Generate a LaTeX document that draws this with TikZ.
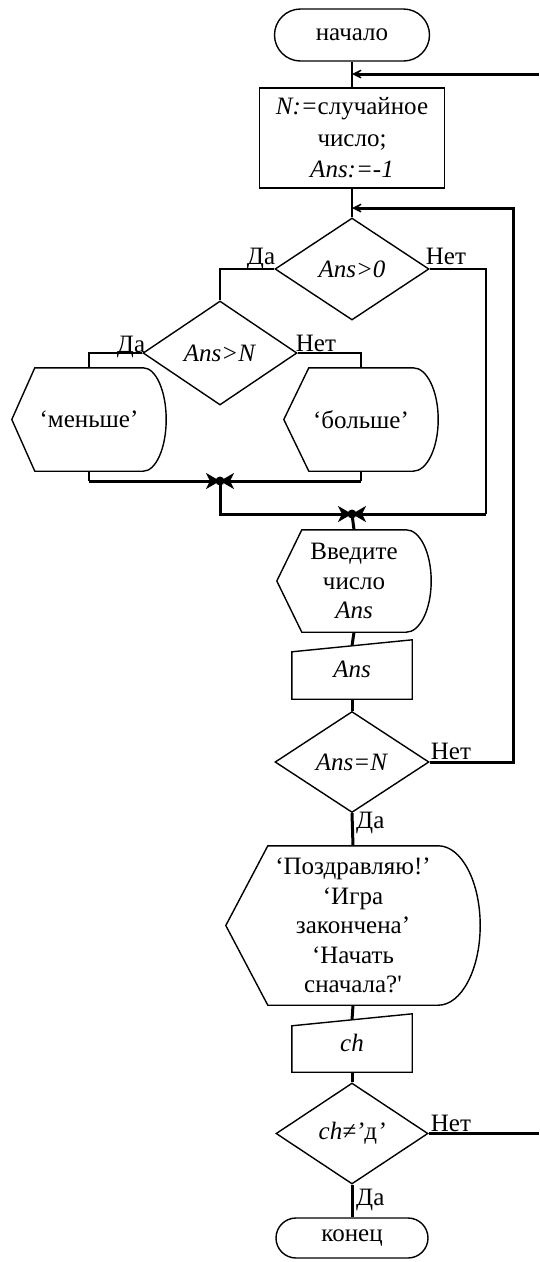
\documentclass[tikz,border=0pt]{standalone}
\usepackage{fontspec}
\setmainfont{Liberation Serif}
\usetikzlibrary{shapes.geometric,arrows.meta,calc}
\newcommand{\dispshape}[2]{%
  \draw[box] (#1.west) -- ($(#1.north west)+(#2,0)$) -- ($(#1.north east)+(-#2,0)$)
    .. controls ($(#1.north east)+(-0.448*#2,0)$) and ($(#1.east)!0.552!(#1.north east)$) .. (#1.east)
    .. controls ($(#1.east)!0.552!(#1.south east)$) and ($(#1.south east)+(-0.448*#2,0)$) .. ($(#1.south east)+(-#2,0)$)
    -- ($(#1.south west)+(#2,0)$) -- cycle;}
\newcommand{\inshape}[2]{%
  \draw[box] ($(#1.north west)+(0,#2)$) -- (#1.north east) -- (#1.south east) -- (#1.south west) -- cycle;}
\begin{document}
\begin{tikzpicture}[x=1pt,y=-1pt,
  every node/.style={font=\fontsize{25}{29.5}\selectfont},
  box/.style={draw,line width=1.4pt},
  term/.style={box,rounded corners=#1,inner sep=0pt},
  proc/.style={box,inner sep=0pt,align=center},
  dec/.style={box,shape=diamond,inner sep=0pt,minimum width=154pt,minimum height=102pt},
  holder/.style={inner sep=0pt,align=center},
  thinline/.style={line width=1.4pt},
  flow/.style={line width=3pt},
  flowarrow/.style={flow,-{Stealth[length=15pt,width=15pt,inset=10pt]}},
  juncarrow/.style={flow,-{Stealth[length=14pt,width=16pt,inset=4pt]}},
  lbl/.style={inner sep=0pt}
]
\useasboundingbox (0,0) rectangle (539,1262);

% nodes
\node[term=26pt,minimum width=155pt,minimum height=52pt] (start) at (352,35) {начало};
\node[proc,minimum width=185pt,minimum height=100pt] (init) at (352,138)
  {\textit{N:=}случайное\\[2pt]число;\\[2pt]\textit{Ans:=-1}};
\node[dec] (c1) at (352,269) {\textit{Ans>0}};
\node[dec,minimum height=104pt] (c2) at (220,353) {\textit{Ans>N}};
\node[holder,minimum width=154pt,minimum height=103pt] (less) at (89,419.5) {‘меньше’};
\node[holder,minimum width=154pt,minimum height=103pt] (more) at (361,419.5) {‘больше’};
\node[holder,minimum width=154pt,minimum height=102pt] (ask) at (354,581) {Введите\\число\\\textit{Ans}};
\node[holder,minimum width=120pt,minimum height=59pt] (inAns) at (352,669.5) {\raisebox{-3pt}{\textit{Ans}}};
\node[dec,minimum height=101pt] (c3) at (352,762) {\textit{Ans=N}};
\node[holder,minimum width=254pt,minimum height=159pt] (msg) at (353,925.5)
  {‘Поздравляю!’\\‘Игра\\закончена’\\‘Начать\\сначала?\textquotesingle};
\node[holder,minimum width=120pt,minimum height=58pt] (inCh) at (352,1043) {\raisebox{-3pt}{\textit{ch}}};
\node[dec,minimum width=152pt,minimum height=101pt] (c4) at (352,1133.5) {\textit{ch≠’}д\textit{’}};
\node[term=20pt,minimum width=152pt,minimum height=40pt] (stop) at (352,1238) {конец};

% shapes
\dispshape{less}{23}
\dispshape{more}{25}
\dispshape{ask}{25}
\dispshape{msg}{42}
\inshape{inAns}{12}
\inshape{inCh}{12}

% coordinates
\coordinate (j0) at (352,74);
\coordinate (r0) at (539,74);
\coordinate (j1) at (352,208);
\coordinate (r1) at (513,208);
\coordinate (j3) at (220,481);
\coordinate (j2) at (352,514);
\coordinate (c1r) at (486,514);
\coordinate (r4) at (539,1133.5);
\coordinate (inAnsTop) at ($(inAns.north)+(0,6)$);
\coordinate (inChTop) at ($(inCh.north)+(0,6)$);

% connectors
\draw[thinline] (start.south) -- (init.north);
\draw[flowarrow] (r0) -- (j0);
\draw[thinline] (init.south) -- (c1.north);
\draw[thinline] (c1.west) -| (c2.north);
\draw[thinline] (c1.east) -| (c1r);
\draw[thinline] (c2.west) -| (less.north);
\draw[thinline] (c2.east) -| (more.north);
\draw[thinline] (less.south) -- (less.south |- j3);
\draw[thinline] (more.south) -- (more.south |- j3);
\draw[juncarrow] (less.south |- j3) -- (j3);
\draw[juncarrow] (more.south |- j3) -- (j3);
\draw[juncarrow] (j3) |- (j2);
\draw[juncarrow] (c1r) -- (j2);
\fill (j3) circle (4.5);
\fill (j2) circle (4.5);
\draw[flow] (j2) -- (ask.north);
\draw[flow] (ask.south) -- (inAnsTop);
\draw[flow] (inAns.south) -- (c3.north);
\draw[flowarrow] (c3.east) -| (r1) -- (j1);
\draw[flow] (c3.south) -- (msg.north);
\draw[flow] (msg.south) -- (inChTop);
\draw[flow] (inCh.south) -- (c4.north);
\draw[flow] (c4.east) -- (r4);
\draw[flow] (c4.south) -- (stop.north);

% labels
\node[lbl,anchor=base east] at ($(c1.west)+(1,-5)$) {Да};
\node[lbl,anchor=base west] at ($(c1.east)+(-4,-5)$) {Нет};
\node[lbl,anchor=base east] at ($(c2.west)+(3,-1)$) {Да};
\node[lbl,anchor=base west] at ($(c2.east)+(-2,-2)$) {Нет};
\node[lbl,anchor=base west] at ($(c3.east)+(1,-3)$) {Нет};
\node[lbl,anchor=base west] at ($(c3.south)+(4,15)$) {Да};
\node[lbl,anchor=base west] at ($(c4.east)+(2,-2)$) {Нет};
\node[lbl,anchor=base west] at ($(c4.south)+(4,21)$) {Да};
\end{tikzpicture}
\end{document}
